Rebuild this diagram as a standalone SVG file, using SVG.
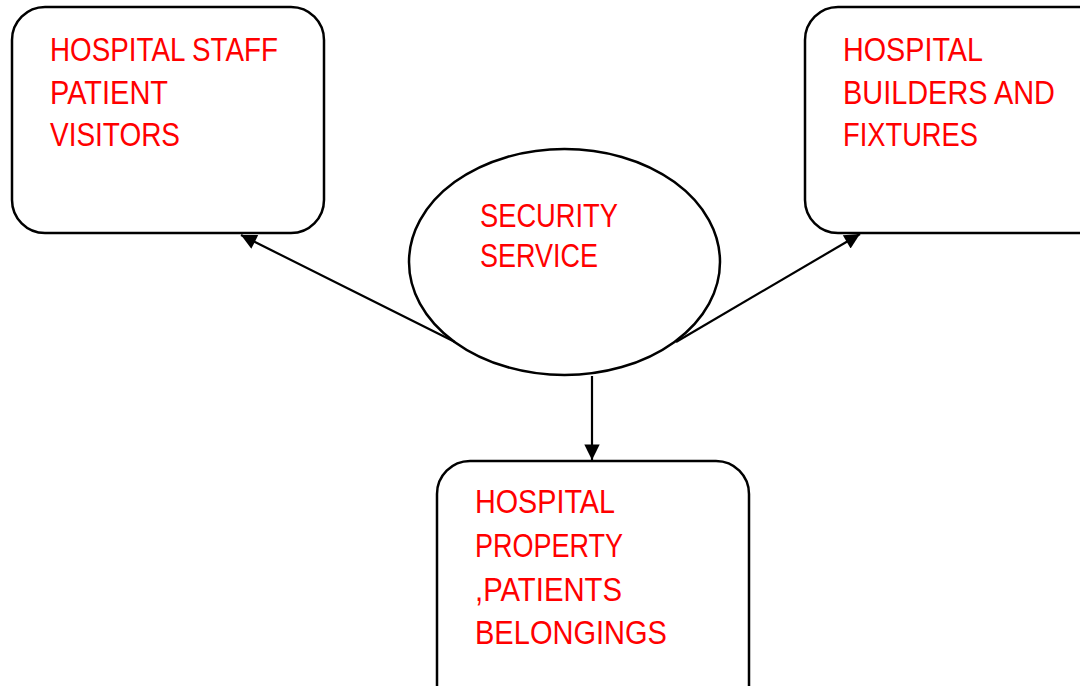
<svg xmlns="http://www.w3.org/2000/svg" width="1080" height="686" viewBox="0 0 1080 686">
  <style>
    .box { fill: #ffffff; stroke: #000000; stroke-width: 2.5; }
    .label { font-family: "Liberation Sans", Arial, sans-serif; font-size: 33px; fill: #ff0000; }
    .edge { stroke: #000000; stroke-width: 2.2; fill: none; marker-end: url(#arrow); }
  </style>
  <defs>
    <marker id="arrow" viewBox="0 0 10 10" refX="10" refY="5" markerWidth="8" markerHeight="7" markerUnits="strokeWidth" orient="auto">
      <path d="M0,0 L10,5 L0,10 Z" fill="#000000"/>
    </marker>
  </defs>

  <rect width="1080" height="686" fill="#ffffff"/>

  <g id="node-people">
    <rect class="box" x="12" y="7" width="312" height="226" rx="33" ry="33"/>
    <text class="label" x="50" y="61" textLength="228" lengthAdjust="spacingAndGlyphs">HOSPITAL STAFF</text>
    <text class="label" x="50" y="104" textLength="118" lengthAdjust="spacingAndGlyphs">PATIENT</text>
    <text class="label" x="50" y="146" textLength="130" lengthAdjust="spacingAndGlyphs">VISITORS</text>
  </g>

  <g id="node-buildings">
    <rect class="box" x="805" y="7" width="312" height="226" rx="33" ry="33"/>
    <text class="label" x="843" y="61" textLength="140" lengthAdjust="spacingAndGlyphs">HOSPITAL</text>
    <text class="label" x="843" y="104" textLength="212" lengthAdjust="spacingAndGlyphs">BUILDERS AND</text>
    <text class="label" x="843" y="146" textLength="135" lengthAdjust="spacingAndGlyphs">FIXTURES</text>
  </g>

  <g id="node-property">
    <rect class="box" x="437" y="461" width="312" height="260" rx="33" ry="33"/>
    <text class="label" x="475" y="513" textLength="140" lengthAdjust="spacingAndGlyphs">HOSPITAL</text>
    <text class="label" x="475" y="557" textLength="148" lengthAdjust="spacingAndGlyphs">PROPERTY</text>
    <text class="label" x="475" y="601" textLength="147" lengthAdjust="spacingAndGlyphs">,PATIENTS</text>
    <text class="label" x="475" y="644" textLength="192" lengthAdjust="spacingAndGlyphs">BELONGINGS</text>
  </g>

  <g id="node-security">
    <ellipse class="box" cx="564.5" cy="262" rx="155.5" ry="113" stroke-width="2"/>
    <text class="label" x="480" y="227" textLength="138" lengthAdjust="spacingAndGlyphs">SECURITY</text>
    <text class="label" x="480" y="267" textLength="118" lengthAdjust="spacingAndGlyphs">SERVICE</text>
  </g>

  <g id="connectors">
    <line class="edge" x1="455" y1="342" x2="241" y2="235"/>
    <line class="edge" x1="676" y1="342" x2="860" y2="234"/>
    <line class="edge" x1="592" y1="376" x2="592" y2="460"/>
  </g>
</svg>
